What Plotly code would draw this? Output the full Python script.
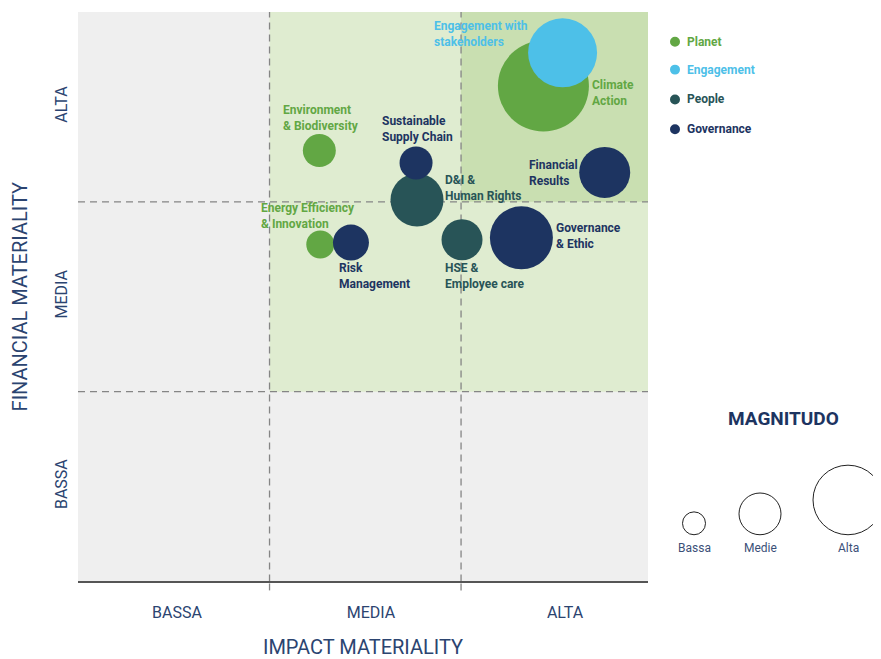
import plotly.graph_objects as go

# materiality topics
topics = ["Engagement with stakeholders", "Climate Action", "Environment & Biodiversity",
          "Sustainable Supply Chain", "D&I & Human Rights", "Financial Results",
          "Energy Efficiency & Innovation", "Risk Management", "HSE & Employee care",
          "Governance & Ethic"]
pillar = ["Engagement", "Planet", "Planet", "Governance", "People", "Governance",
          "Planet", "Governance", "People", "Governance"]
impact = [2.53, 2.43, 1.26, 1.765, 1.77, 2.75, 1.265, 1.425, 2.005, 2.315]
financial = [2.785, 2.61, 2.27, 2.205, 2.01, 2.155, 1.775, 1.785, 1.80, 1.81]
magnitude = [69, 91, 33, 33, 53, 51, 28, 36, 41, 63]

levels = ["BASSA", "MEDIA", "ALTA"]
pillars = ["Planet", "Engagement", "People", "Governance"]
magnitude_levels = ["Bassa", "Medie", "Alta"]

colors = {"Planet": "#62a744", "Engagement": "#4dc0e8", "People": "#285457", "Governance": "#1d3461"}
navy = "#2b4470"
font = "Roboto, sans-serif"

# page body has an 8px margin, so work in page pixels and shift
OFF = 8
W, H = 881 - OFF, 659 - OFF
def px(x): return (x - OFF) / W
def py(y): return 1 - (y - OFF) / H

# label text + offset from bubble centre (px)
labels = {
    "Engagement with stakeholders": ("Engagement with<br>stakeholders", -129, 19),
    "Climate Action": ("Climate<br>Action", 49, -7),
    "Environment & Biodiversity": ("Environment<br>& Biodiversity", -36, 33),
    "Sustainable Supply Chain": ("Sustainable<br>Supply Chain", -34, 34),
    "D&I & Human Rights": ("D&I &<br>Human Rights", 28, 12),
    "Financial Results": ("Financial<br>Results", -76, -1),
    "Energy Efficiency & Innovation": ("Energy Efficiency<br>& Innovation", -59, 29),
    "Risk Management": ("Risk<br>Management", -12, -33),
    "HSE & Employee care": ("HSE &<br>Employee care", -17, -36),
    "Governance & Ethic": ("Governance<br>& Ethic", 35, 2),
}

fig = go.Figure()

# bubbles, drawn so overlaps match
for p in ["Planet", "People", "Governance", "Engagement"]:
    idx = [i for i, g in enumerate(pillar) if g == p]
    fig.add_trace(go.Scatter(
        x=[impact[i] for i in idx], y=[financial[i] for i in idx],
        mode="markers", name=p, hoverinfo="skip",
        marker=dict(size=[magnitude[i] for i in idx], sizemode="diameter",
                    color=colors[p], opacity=1, line=dict(width=0)),
        cliponaxis=False, showlegend=False))

dash = dict(color="#858585", width=1.3, dash="7px,5px")
shapes = [
    dict(type="rect", xref="x", yref="y", x0=0, x1=3, y0=0, y1=3, fillcolor="#efefef", line_width=0, layer="below"),
    dict(type="rect", xref="x", yref="y", x0=1, x1=3, y0=1, y1=3, fillcolor="#dfecd0", line_width=0, layer="below"),
    dict(type="rect", xref="x", yref="y", x0=2, x1=3, y0=2, y1=3, fillcolor="#c9dfb1", line_width=0, layer="below"),
]
for v in [1, 2]:
    shapes.append(dict(type="line", xref="x", yref="y", x0=v, x1=v, y0=0, y1=3, line=dash, layer="below"))
    shapes.append(dict(type="line", xref="x", yref="paper", x0=v, x1=v, y0=py(594), y1=py(587),
                       line=dash, layer="below"))
    shapes.append(dict(type="line", xref="x", yref="y", x0=0, x1=3, y0=v, y1=v, line=dash, layer="below"))

annotations = []
for i, t in enumerate(topics):
    txt, dx, dy = labels[t]
    annotations.append(dict(x=impact[i], y=financial[i], xref="x", yref="y", text=txt,
                            showarrow=False, xanchor="left", yanchor="middle", align="left",
                            xshift=dx - 2, yshift=dy,
                            font=dict(family=font, size=12, color=colors[pillar[i]], weight="bold")))

# pillar legend
for k, p in enumerate(pillars):
    cy = [42, 70, 100, 130][k]
    shapes.append(dict(type="circle", xref="paper", yref="paper", x0=px(670), x1=px(680),
                       y0=py(cy + 5), y1=py(cy - 5), fillcolor=colors[p], line_width=0))
    annotations.append(dict(x=px(685), y=py(cy), xref="paper", yref="paper", text=p, showarrow=False,
                            xanchor="left", yanchor="middle",
                            font=dict(family=font, size=12, color=colors[p], weight="bold")))

# magnitude legend
annotations.append(dict(x=px(783), y=py(421), xref="paper", yref="paper", text="<b>MAGNITUDO</b>",
                        showarrow=False, xanchor="center", yanchor="middle",
                        font=dict(family=font, size=19, color="#1d3461")))
for k, m in enumerate(magnitude_levels):
    cx, r = [(694, 11.5), (760, 21), (848, 35)][k]
    shapes.append(dict(type="circle", xref="paper", yref="paper", x0=px(cx - r), x1=px(cx + r),
                       y0=py(538), y1=py(538 - 2 * r), line=dict(color="#222222", width=1)))
    annotations.append(dict(x=px(cx), y=py(551), xref="paper", yref="paper", text=m, showarrow=False,
                            xanchor="center", yanchor="middle",
                            font=dict(family=font, size=12, color="#3b5078")))

fig.update_layout(
    width=W, height=H, margin=dict(l=0, r=0, t=0, b=0),
    paper_bgcolor="white", plot_bgcolor="rgba(0,0,0,0)",
    shapes=shapes, annotations=annotations, showlegend=False,
    xaxis=dict(domain=[px(78), px(648)], range=[0, 2.976], showgrid=False, zeroline=False,
               showline=True, linecolor="#555555", linewidth=2,
               tickvals=[0.517, 1.53, 2.543], ticktext=levels, ticks="", ticklabelstandoff=15,
               tickfont=dict(family=font, size=16, color=navy),
               title=dict(text="IMPACT MATERIALITY", standoff=23,
                          font=dict(family=font, size=20, color=navy))),
    yaxis=dict(domain=[py(585), py(12)], range=[0, 3], showgrid=False, zeroline=False,
               tickvals=[0.5, 1.5, 2.5], ticktext=levels, ticks="", tickangle=-90, ticklabelstandoff=7,
               tickfont=dict(family=font, size=16, color=navy),
               title=dict(text="FINANCIAL MATERIALITY", standoff=21,
                          font=dict(family=font, size=20, color=navy))),
)

fig.write_html("out.html")
